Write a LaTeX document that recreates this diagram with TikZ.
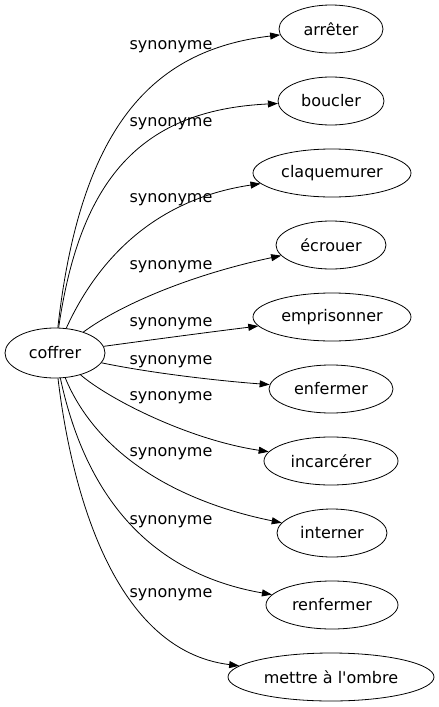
\documentclass[tikz,border=0pt]{standalone}
\usepackage{fontspec}
\setmainfont{DejaVu Sans}
\usetikzlibrary{shapes.geometric,arrows.meta}
\tikzset{
  word/.style={draw, ellipse, inner sep=0pt, minimum height=48pt, line width=0.8pt},
  syn/.style={inner sep=0pt},
  edge/.style={line width=0.8pt, -{Triangle[length=10pt,width=7pt]}},
}
\begin{document}
\begin{tikzpicture}[x=1pt,y=-1pt,font=\fontsize{16}{19}\selectfont]
\useasboundingbox (0,0) rectangle (439,707);
\node[word, minimum width=100pt, minimum height=50pt] (c) at (55,353) {coffrer};
\node[word, minimum width=104pt] (t1) at (331,29) {arrêter};
\node[word, minimum width=106pt] (t2) at (331,101) {boucler};
\node[word, minimum width=158pt] (t3) at (332,173) {claquemurer};
\node[word, minimum width=110pt] (t4) at (331,245) {écrouer};
\node[word, minimum width=158pt] (t5) at (332,317) {emprisonner};
\node[word, minimum width=124pt] (t6) at (331,389) {enfermer};
\node[word, minimum width=134pt] (t7) at (331,461) {incarcérer};
\node[word, minimum width=110pt] (t8) at (332,533) {interner};
\node[word, minimum width=132pt] (t9) at (332,605) {renfermer};
\node[word, minimum width=206pt] (t10) at (331,677) {mettre à l\textquotesingle ombre};
\node[syn] (l1) at (171,47) {synonyme};
\node[syn] (l2) at (171,124) {synonyme};
\node[syn] (l3) at (171,200) {synonyme};
\node[syn] (l4) at (171,267) {synonyme};
\node[syn] (l5) at (171,324) {synonyme};
\node[syn] (l6) at (171,362) {synonyme};
\node[syn] (l7) at (171,398) {synonyme};
\node[syn] (l8) at (171,454) {synonyme};
\node[syn] (l9) at (171,522) {synonyme};
\node[syn] (l10) at (171,595) {synonyme};
\draw[edge] (c) .. controls (80,130) and (150,50) .. (t1);
\draw[edge] (c) .. controls (80,180) and (140,110) .. (t2);
\draw[edge] (c) .. controls (95,265) and (150,200) .. (t3);
\draw[edge] (c) .. controls (120,305) and (190,275) .. (t4);
\draw[edge] (c) .. controls (150,340) and (210,332) .. (t5);
\draw[edge] (c) .. controls (150,373) and (220,381) .. (t6);
\draw[edge] (c) .. controls (110,400) and (190,440) .. (t7);
\draw[edge] (c) .. controls (95,450) and (170,500) .. (t8);
\draw[edge] (c) .. controls (80,470) and (130,570) .. (t9);
\draw[edge] (c) .. controls (70,480) and (110,650) .. (t10);
\end{tikzpicture}
\end{document}
